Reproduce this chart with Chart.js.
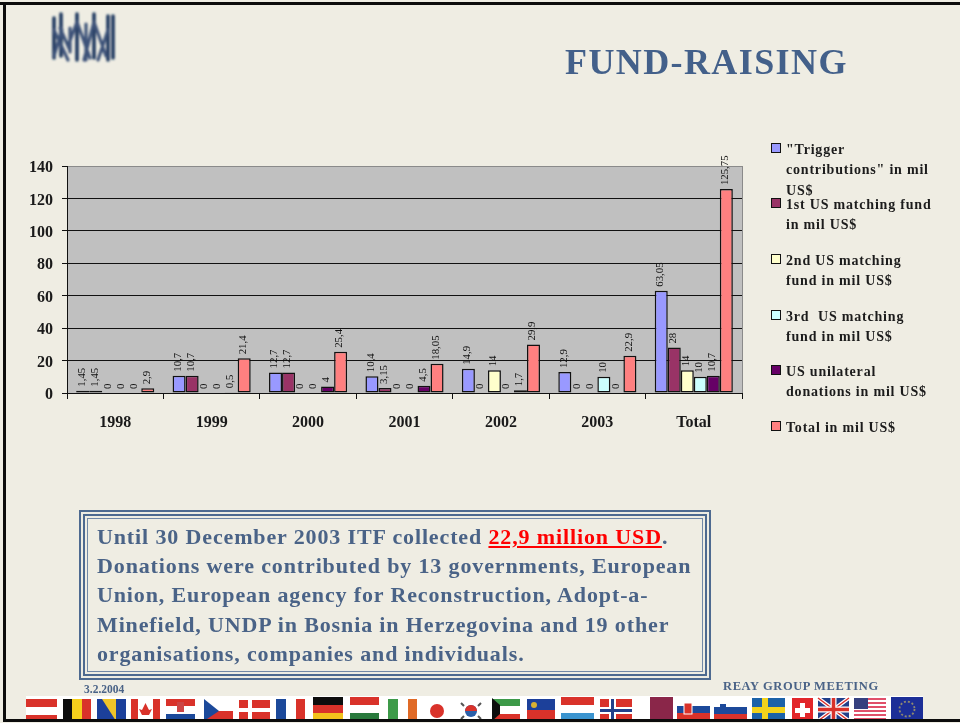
<!DOCTYPE html>
<html>
<head>
<meta charset="utf-8">
<title>FUND-RAISING</title>
<script src="https://cdn.jsdelivr.net/npm/chart.js@4"></script>
<style>
html,body{margin:0;padding:0;width:960px;height:723px;overflow:hidden;background:#EFEDE3;font-family:"Liberation Serif",serif}
#stage{position:relative;width:960px;height:723px;overflow:hidden}
#stage canvas{position:absolute;left:0;top:0}
.abs{position:absolute;white-space:nowrap}
#title{left:565px;top:41px;font-weight:bold;font-size:36px;line-height:42px;color:#43608A;letter-spacing:1.4px}
#frame1{position:absolute;left:79px;top:510px;width:632px;height:170px;box-sizing:border-box;border:2px solid #4E6A90}
#frame2{position:absolute;left:83px;top:514px;width:624px;height:162px;box-sizing:border-box;border:2px solid #4E6A90}
#frame3{position:absolute;left:87px;top:518px;width:616px;height:154px;box-sizing:border-box;border:1px solid #7288A6}
#msg{left:97px;top:522px;font-weight:bold;font-size:22px;line-height:29.2px;color:#4A6387;letter-spacing:.87px}
#msg span{color:#F00;text-decoration:underline}
#date{left:84px;top:682px;font-weight:bold;font-size:11.5px;line-height:14px;color:#4A6387}
#reay{left:723px;top:679px;font-weight:bold;font-size:12.5px;line-height:14px;color:#4A6387;letter-spacing:.6px}
.lg{position:absolute;left:786px;font-weight:bold;font-size:14px;line-height:20.3px;color:#1c1c1c;white-space:nowrap;letter-spacing:.8px}
.sw{position:absolute;left:771px;width:8px;height:8px;box-sizing:content-box;border:1px solid #111}
#lineT{position:absolute;left:0;top:2px;width:960px;height:3px;background:#0c0c0c}
#lineL{position:absolute;left:3px;top:2px;width:3px;height:720px;background:#0c0c0c}
#lineB{position:absolute;left:3px;top:719px;width:957px;height:3px;background:#0c0c0c}
svg{position:absolute;left:0;top:0}
</style>
</head>
<body>
<div id="stage">
<svg width="960" height="723" xmlns="http://www.w3.org/2000/svg">
  <defs>
    <filter id="b1"><feGaussianBlur stdDeviation="1.2"/></filter>
    <filter id="b2"><feGaussianBlur stdDeviation=".7"/></filter>
  </defs>
  <g filter="url(#b1)" fill="none" stroke="#223A60" stroke-width="3.6" stroke-linecap="round">
    <path d="M54 18V58M61 14V56M77 14V60M94 14V58M108 16V60M113 16V58"/>
    <path d="M54 30L68 60M62 30L54 56M77 22L68 46L60 28M77 22L90 58M94 22L84 60M94 22L106 56M108 30L98 60M70 28V52M86 24V60" stroke="#3E5379" stroke-width="3.2"/>
  </g>
  <g filter="url(#b2)">
    <rect x="26" y="696" width="897" height="24" fill="#fff"/>
    <rect x="26" y="699" width="31" height="8" fill="#D9302B"/><rect x="26" y="715" width="31" height="6" fill="#D9302B"/>
    <rect x="63" y="699" width="9" height="22" fill="#111"/><rect x="72" y="699" width="10" height="22" fill="#F5CF1F"/><rect x="82" y="699" width="9" height="22" fill="#D9302B"/>
    <rect x="97" y="699" width="29" height="22" fill="#1F3F9A"/><path d="M102 699H116V721Z" fill="#F0C52A"/>
    <rect x="131" y="699" width="7" height="22" fill="#D9302B"/><rect x="153" y="699" width="7" height="22" fill="#D9302B"/><path d="M145.500 703L149 710L152 709L149 715H142L139 709L142 710Z" fill="#D9302B"/>
    <rect x="166" y="699" width="29" height="7" fill="#D9302B"/><rect x="166" y="714" width="29" height="7" fill="#1F4A9A"/><rect x="177" y="702" width="7" height="10" fill="#C44"/>
    <rect x="204" y="711" width="29" height="10" fill="#D9302B"/><path d="M204 699L219 711L204 721Z" fill="#1F4A9A"/>
    <rect x="239" y="700" width="31" height="21" fill="#D9302B"/><rect x="248" y="699" width="4" height="22" fill="#fff"/><rect x="239" y="708" width="31" height="4" fill="#fff"/>
    <rect x="276" y="699" width="10" height="22" fill="#1F4A9A"/><rect x="296" y="699" width="9" height="22" fill="#D9302B"/>
    <rect x="313" y="697" width="30" height="8" fill="#111"/><rect x="313" y="705" width="30" height="8" fill="#D9302B"/><rect x="313" y="713" width="30" height="8" fill="#F2C21F"/>
    <rect x="350" y="697" width="29" height="8" fill="#D9302B"/><rect x="350" y="713" width="29" height="8" fill="#2C7A3C"/>
    <rect x="388" y="699" width="10" height="22" fill="#3E9A48"/><rect x="408" y="699" width="9" height="22" fill="#E06A26"/>
    <circle cx="437" cy="711" r="7" fill="#D9302B"/>
    <circle cx="471" cy="711" r="6" fill="#2B5FA8"/><path d="M465 711A6 6 0 0 1 477 711Z" fill="#D9302B"/><path d="M461 703l3 3M481 703l-3 3M461 719l3-3M481 719l-3-3" stroke="#555" stroke-width="2"/>
    <rect x="492" y="699" width="28" height="7" fill="#3E9A48"/><rect x="492" y="714" width="28" height="7" fill="#D9302B"/><path d="M492 698L500 705V714L492 721Z" fill="#111"/>
    <rect x="527" y="699" width="28" height="11" fill="#1F3F9A"/><rect x="527" y="710" width="28" height="11" fill="#D9302B"/><circle cx="534" cy="705" r="3" fill="#D8B030"/>
    <rect x="561" y="697" width="33" height="8" fill="#D9302B"/><rect x="561" y="713" width="33" height="8" fill="#3A94CF"/>
    <rect x="600" y="699" width="32" height="22" fill="#D9302B"/><rect x="609" y="699" width="7" height="22" fill="#fff"/><rect x="600" y="707" width="32" height="7" fill="#fff"/><rect x="611" y="699" width="3" height="22" fill="#24408A"/><rect x="600" y="709" width="32" height="3" fill="#24408A"/>
    <rect x="650" y="697" width="23" height="24" fill="#8A2748"/>
    <rect x="677" y="706" width="33" height="7" fill="#1F4A9A"/><rect x="677" y="713" width="33" height="8" fill="#D9302B"/><rect x="684" y="703" width="8" height="11" fill="#D9302B" stroke="#fff"/>
    <rect x="714" y="707" width="33" height="7" fill="#1F4A9A"/><rect x="714" y="714" width="33" height="7" fill="#D9302B"/><rect x="720" y="704" width="6" height="8" fill="#1F4A9A"/>
    <rect x="752" y="698" width="33" height="23" fill="#1F62A8"/><rect x="762" y="698" width="6" height="23" fill="#F2D21F"/><rect x="752" y="707" width="33" height="6" fill="#F2D21F"/>
    <rect x="792" y="698" width="21" height="23" fill="#E2262A"/><rect x="800" y="703" width="5" height="14" fill="#fff"/><rect x="795" y="708" width="15" height="5" fill="#fff"/>
    <rect x="818" y="698" width="31" height="23" fill="#24408A"/><path d="M818 698L849 721M849 698L818 721" stroke="#fff" stroke-width="4"/><path d="M818 698L849 721M849 698L818 721" stroke="#D9302B" stroke-width="1.500"/><path d="M833.500 698V721M818 709.500H849" stroke="#fff" stroke-width="6"/><path d="M833.500 698V721M818 709.500H849" stroke="#D9302B" stroke-width="3.500"/>
    <path d="M854 699H886M854 703H886M854 707H886M854 711H886M854 715H886M854 719H886" stroke="#E0506A" stroke-width="2"/><rect x="854" y="698" width="14" height="11" fill="#34407F"/>
    <rect x="891" y="697" width="32" height="24" fill="#1E2F97"/><circle cx="907" cy="709" r="7.500" fill="none" stroke="#8E8A70" stroke-width="1.800" stroke-dasharray="2 2"/>
  </g>
</svg>
<canvas id="c" width="960" height="723"></canvas>
<div class="abs" id="title">FUND-RAISING</div>
<div id="frame1"></div><div id="frame2"></div><div id="frame3"></div>
<div class="abs" id="msg">Until 30 December 2003 ITF collected <span>22,9 million USD</span>.<br>Donations were contributed by 13 governments, European<br>Union, European agency for Reconstruction, Adopt-a-<br>Minefield, UNDP in Bosnia in Herzegovina and 19 other<br>organisations, companies and individuals.</div>
<div class="abs" id="date">3.2.2004</div>
<div class="abs" id="reay">REAY GROUP MEETING</div>
<div id="legend"></div>
<div id="lineT"></div><div id="lineL"></div><div id="lineB"></div>
</div>
<script>
const categories = ["1998","1999","2000","2001","2002","2003","Total"];
const triggerContributions = [1.45,10.7,12.7,10.4,14.9,12.9,63.05];
const firstMatching = [1.45,10.7,12.7,3.15,0,0,28];
const secondMatching = [0,0,0,0,14,0,14];
const thirdMatching = [0,0,0,0,0,10,10];
const usUnilateral = [0,0.5,4,4.5,1.7,0,10.7];
const totals = [2.9,21.4,25.4,18.05,29.9,22.9,125.75];
const seriesNames = ['"Trigger contributions" in mil US$','1st US matching fund in mil US$','2nd US matching fund in mil US$','3rd  US matching fund in mil US$','US unilateral donations in mil US$','Total in mil US$'];
const legendLines = [['"Trigger','contributions" in mil','US$'],['1st US matching fund','in mil US$'],['2nd US matching','fund in mil US$'],['3rd &nbsp;US matching','fund in mil US$'],['US unilateral','donations in mil US$'],['Total in mil US$']];
const seriesColors = ['#9999FF','#993366','#FFFFCC','#CCFFFF','#660066','#FF8080'];
const seriesValues = [triggerContributions,firstMatching,secondMatching,thirdMatching,usUnilateral,totals];
const legendTops = [140,195,251,307,362,418];

const serif = '"Liberation Serif", serif';

const plotBackground = {
  id:'plotBackground',
  beforeDraw(chart){
    const a = chart.chartArea, ctx = chart.ctx;
    ctx.save();
    ctx.fillStyle = '#C0C0C0';
    ctx.fillRect(a.left,a.top,a.right-a.left,a.bottom-a.top);
    ctx.strokeStyle = '#8a8a8a';
    ctx.lineWidth = 1;
    ctx.beginPath();
    ctx.moveTo(a.right+.5,a.top);ctx.lineTo(a.right+.5,a.bottom);
    ctx.stroke();
    ctx.restore();
  }
};
const rotatedLabels = {
  id:'rotatedLabels',
  afterDatasetsDraw(chart){
    const ctx = chart.ctx;
    ctx.save();
    ctx.font = '10.8px '+serif;
    ctx.fillStyle = '#111';
    ctx.textAlign = 'left';
    ctx.textBaseline = 'middle';
    chart.data.datasets.forEach((ds,i)=>{
      chart.getDatasetMeta(i).data.forEach((bar,j)=>{
        ctx.save();
        ctx.translate(bar.x-1,bar.y-4);
        ctx.rotate(-Math.PI/2);
        ctx.fillText(String(ds.data[j]).replace('.',','),0,0);
        ctx.restore();
      });
    });
    ctx.restore();
  }
};

new Chart(document.getElementById('c'),{
  type:'bar',
  data:{
    labels:categories,
    datasets:seriesValues.map((v,i)=>({
      label:seriesNames[i],
      data:v,
      backgroundColor:seriesColors[i],
      borderColor:'#111',
      borderWidth:1.5,
      borderSkipped:false,
      barPercentage:1,
      categoryPercentage:0.81
    }))
  },
  options:{
    responsive:false,
    animation:false,
    layout:{padding:{left:0,top:166,right:218,bottom:290}},
    plugins:{legend:{display:false},tooltip:{enabled:false},title:{display:false}},
    scales:{
      x:{
        afterFit(s){s.height=40;},
        grid:{display:true,drawOnChartArea:false,drawTicks:true,tickLength:6,color:'#111'},
        border:{color:'#111',width:1},
        ticks:{color:'#1a1a1a',font:{family:serif,size:16,weight:'bold'},padding:14,maxRotation:0}
      },
      y:{
        min:0,max:140,
        afterFit(s){s.width=67;},
        grid:{color:c=>c.tick&&c.tick.value===140?'#8a8a8a':'#111',lineWidth:1,tickLength:5,tickColor:'#111'},
        border:{color:'#111',width:1},
        ticks:{stepSize:20,color:'#1a1a1a',font:{family:serif,size:16,weight:'bold'},padding:9,labelOffset:2}
      }
    }
  },
  plugins:[plotBackground,rotatedLabels]
});

const lg = document.getElementById('legend');
legendLines.forEach((lines,i)=>{
  const t = document.createElement('div');
  t.className='lg';
  t.style.top=legendTops[i]+'px';
  t.innerHTML=lines.join('<br>');
  lg.appendChild(t);
  const s = document.createElement('div');
  s.className='sw';
  s.style.top=(legendTops[i]+3)+'px';
  s.style.background=seriesColors[i];
  lg.appendChild(s);
});
</script>
</body>
</html>
